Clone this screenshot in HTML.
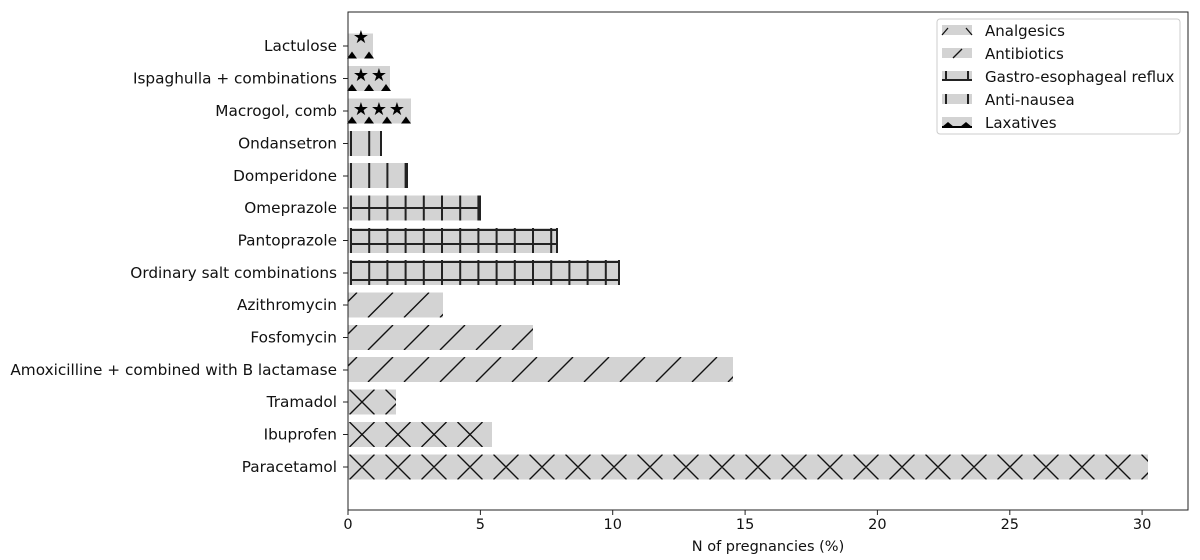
<!DOCTYPE html>
<html><head><meta charset="utf-8"><style>
html,body{margin:0;padding:0;background:#fff;}
svg{display:block;font-family:"DejaVu Sans","Liberation Sans",sans-serif;}
</style></head><body>
<svg id="s" width="1200" height="560" viewBox="0 0 1200 560" xmlns="http://www.w3.org/2000/svg">
<rect width="1200" height="560" fill="#fff"/>
<g id="bars"></g>
<g fill="#000" font-size="18" text-anchor="middle">
<text x="361" y="43">★</text>
<text x="361" y="81">★</text><text x="379" y="81">★</text>
<text x="361" y="115">★</text><text x="379" y="115">★</text><text x="397" y="115">★</text>
</g>
<rect x="348" y="12" width="840" height="498" fill="none" stroke="#222" stroke-width="1"/>
<g stroke="#222">
<path d="M348,510v5M480.4,510v5M612.7,510v5M745.1,510v5M877.4,510v5M1009.8,510v5M1142.1,510v5"/>
<path d="M343,46h5M343,78.5h5M343,111h5M343,143.5h5M343,176h5M343,208h5M343,240.5h5M343,273h5M343,305h5M343,337.5h5M343,370h5M343,402h5M343,434.5h5M343,467h5"/>
</g>
<g font-size="14.5" fill="#111" text-anchor="middle">
<text x="348" y="529">0</text><text x="480.4" y="529">5</text><text x="612.7" y="529">10</text><text x="745.1" y="529">15</text><text x="877.4" y="529">20</text><text x="1009.8" y="529">25</text><text x="1142.1" y="529">30</text>
<text x="768" y="551">N of pregnancies (%)</text>
</g>
<g font-size="15.3" fill="#111" text-anchor="end">
<text x="337" y="51">Lactulose</text>
<text x="337" y="83.5">Ispaghulla + combinations</text>
<text x="337" y="116">Macrogol, comb</text>
<text x="337" y="148.5">Ondansetron</text>
<text x="337" y="181">Domperidone</text>
<text x="337" y="213">Omeprazole</text>
<text x="337" y="245.5">Pantoprazole</text>
<text x="337" y="278">Ordinary salt combinations</text>
<text x="337" y="310">Azithromycin</text>
<text x="337" y="342.5">Fosfomycin</text>
<text x="337" y="375">Amoxicilline + combined with B lactamase</text>
<text x="337" y="407">Tramadol</text>
<text x="337" y="439.5">Ibuprofen</text>
<text x="337" y="472">Paracetamol</text>
</g>
<rect x="937" y="19" width="243" height="115" rx="3" fill="#fff" stroke="#ccc"/>
<g>
<rect x="942" y="25" width="30" height="10" fill="#d3d3d3"/><path d="M942,35L948,28M966,28L972,35" stroke="#111" stroke-width="1.3"/>
<rect x="942" y="48" width="30" height="10" fill="#d3d3d3"/><path d="M953,58L962,49" stroke="#111" stroke-width="1.3"/>
<rect x="942" y="71" width="30" height="10" fill="#d3d3d3"/><path d="M942,80H972M946,71V81M968,71V81" stroke="#222" stroke-width="2"/>
<rect x="942" y="94" width="30" height="10" fill="#d3d3d3"/><path d="M946,94V104M968,94V104" stroke="#222" stroke-width="2"/>
<rect x="942" y="117" width="30" height="10" fill="#d3d3d3"/><path d="M942,127L948,122L954,127ZM960,127L966,122L972,127Z" fill="#000"/><path d="M942,127H972" stroke="#000" stroke-width="2"/>
</g>
<g font-size="15" fill="#111">
<text x="985" y="36">Analgesics</text>
<text x="985" y="59">Antibiotics</text>
<text x="985" y="82">Gastro-esophageal reflux</text>
<text x="985" y="105">Anti-nausea</text>
<text x="985" y="128">Laxatives</text>
</g>
</svg>
<script>
(function(){
var NS="http://www.w3.org/2000/svg",g=document.getElementById("bars");
function el(t,a){var e=document.createElementNS(NS,t);for(var k in a)e.setAttribute(k,a[k]);g.appendChild(e);return e;}
var H=25;
function bar(y,w,type){
  var x=348;
  el("rect",{x:x,y:y,width:w,height:H,fill:"#d3d3d3"});
  var d="";
  if(type=="x"||type=="s"){
    for(var i=-2;i*36<w+36;i++){
      if(type=="x"){
        var c=362+i*36;
        d+="M"+(c-12.5)+","+y+"L"+(c+12.5)+","+(y+H)+"M"+(c-12.5)+","+(y+H)+"L"+(c+12.5)+","+y;
      } else {
        var b=368+i*36;
        d+="M"+b+","+(y+H)+"L"+(b+25)+","+y;
      }
    }
    var id="c"+Math.round(y);
    var cp=el("clipPath",{id:id});var r=document.createElementNS(NS,"rect");
    r.setAttribute("x",x);r.setAttribute("y",y);r.setAttribute("width",w);r.setAttribute("height",H);cp.appendChild(r);
    el("path",{d:d,stroke:"#111","stroke-width":1.4,fill:"none","clip-path":"url(#"+id+")"});
  } else if(type=="v"){
    for(var p=x+3;p<=x+w+1;p+=18.2)d+="M"+p+","+y+"V"+(y+H);
    d+="M"+(x+w-1)+","+y+"V"+(y+H);
    el("path",{d:d,stroke:"#222","stroke-width":2,fill:"none"});
  }
}
bar(33.5,25,"n");bar(66,42,"n");bar(98.5,63,"n");
bar(131,34,"v");bar(163,60,"v");
bar(195.5,133,"v");bar(228,210,"v");bar(260,272,"v");
el("path",{d:"M350,208H481M350,230H558M350,244H558M350,262H620M350,280H620",stroke:"#222","stroke-width":2});
bar(292.5,95,"s");bar(325,185,"s");bar(357,385,"s");
bar(389.5,48,"x");bar(422,144,"x");bar(454.5,800,"x");
var d="";
[[58.5,[352,369]],[91,[352,369,386]],[123.5,[352,369,387,406]]].forEach(function(r){r[1].forEach(function(cx){d+="M"+(cx-5)+","+r[0]+"L"+cx+","+(r[0]-7)+"L"+(cx+5)+","+r[0]+"Z";});});
el("path",{d:d,fill:"#000"});
})();
</script>
</body></html>
